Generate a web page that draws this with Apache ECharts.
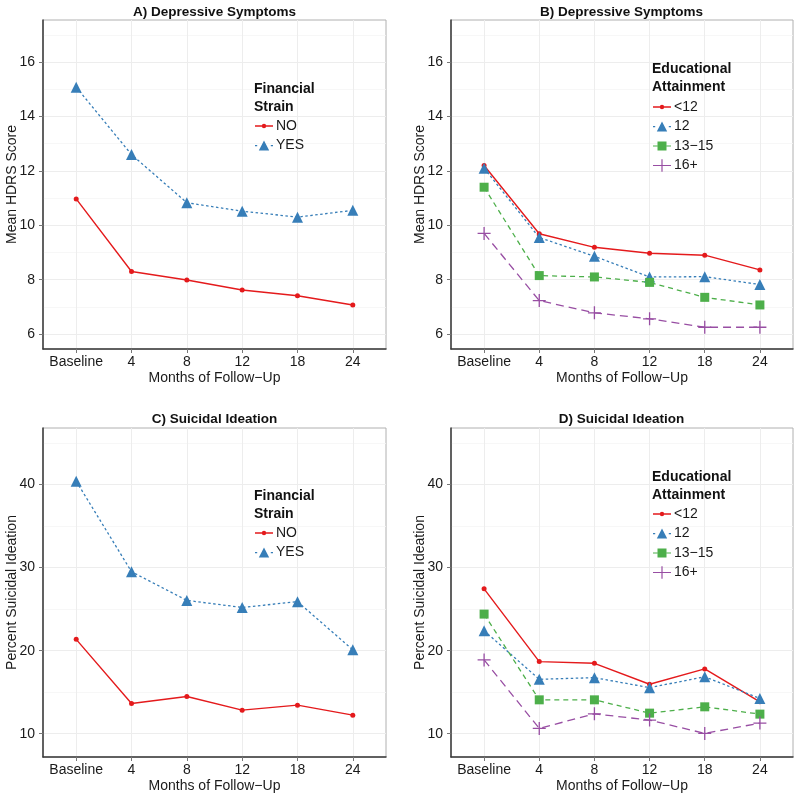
<!DOCTYPE html>
<html>
<head>
<meta charset="utf-8">
<script src="https://cdn.jsdelivr.net/npm/echarts@6/dist/echarts.min.js"></script>
<style>html,body{margin:0;padding:0;background:#fff}#c{width:800px;height:800px}</style>
</head>
<body>
<div id="c"></div>
<script>
// ---------- data ----------
const months = ['Baseline', '4', '8', '12', '18', '24'];

const depFinNo  = [10.97, 8.30, 7.99, 7.62, 7.41, 7.07];
const depFinYes = [15.08, 12.60, 10.83, 10.52, 10.30, 10.55];

const depEduLt12 = [12.20, 9.69, 9.19, 8.97, 8.90, 8.36];
const depEdu12   = [12.10, 9.55, 8.86, 8.10, 8.11, 7.82];
const depEdu1315 = [11.40, 8.15, 8.10, 7.90, 7.35, 7.07];
const depEdu16p  = [9.70, 7.23, 6.78, 6.56, 6.25, 6.25];

const siFinNo  = [21.36, 13.64, 14.48, 12.84, 13.44, 12.24];
const siFinYes = [40.40, 29.50, 26.05, 25.20, 25.90, 20.10];

const siEduLt12 = [27.44, 18.68, 18.48, 15.96, 17.80, 13.84];
const siEdu12   = [22.40, 16.55, 16.75, 15.55, 16.85, 14.25];
const siEdu1315 = [24.40, 14.08, 14.08, 12.48, 13.24, 12.36];
const siEdu16p  = [18.88, 10.64, 12.40, 11.64, 10.04, 11.28];

const depTicks = [6, 8, 10, 12, 14, 16];
const depMinor = [7, 9, 11, 13, 15, 17];
const siTicks = [10, 20, 30, 40];
const siMinor = [15, 25, 35, 45];

const finNames = ['NO', 'YES'];
const eduNames = ['<12', '12', '13\u221215', '16+'];

// ---------- styling ----------
const FONT = 'Liberation Sans, Arial, Helvetica, sans-serif';
const RED = '#E41A1C', BLUE = '#377EB8', GREEN = '#4DAF4A', PURPLE = '#984EA3';
const PLUS = 'path://M9,0H11V9H20V11H11V20H9V11H0V9H9Z';

// legend glyphs (line + marker) drawn in a 180-unit-wide box, 10 units = 1px
function rect(x0, x1, h) { return 'M' + x0 + ',' + (-h) + 'H' + x1 + 'V' + h + 'H' + x0 + 'Z'; }
const ICON_RED = 'path://' + rect(0, 70, 6.5) + rect(110, 180, 6.5) +
  'M112,0A22,22 0 1,1 68,0A22,22 0 1,1 112,0Z';
const ICON_BLUE = 'path://' + rect(0, 22, 6) + rect(158, 180, 6) +
  'M90,-52L142,48H38Z';
const ICON_GREEN = 'path://' + rect(0, 44, 6) + rect(136, 180, 6) +
  'M45,-45H135V45H45Z';
const ICON_PURPLE = 'path://' + rect(0, 28, 6) + rect(152, 180, 6) +
  'M84,-62H96V-6H152V6H96V62H84V6H28V-6H84Z';

const grids = [
  {left: 43, top: 20, width: 343, height: 329},
  {left: 451, top: 20, width: 342, height: 329},
  {left: 43, top: 428, width: 343, height: 329},
  {left: 451, top: 428, width: 342, height: 329}
].map(g => Object.assign(g, {show: true, borderColor: '#B0B0B0', borderWidth: 1, backgroundColor: '#fff'}));

const idx = [0, 1, 2, 3, 4, 5];

function xAxisFor(gi) {
  return {
    type: 'value', gridIndex: gi, min: -0.6, max: 5.6,
    name: 'Months of Follow\u2212Up', nameLocation: 'middle', nameGap: 22,
    nameTextStyle: {fontFamily: FONT, fontSize: 14, color: '#1a1a1a'},
    axisLine: {show: true, onZero: false, lineStyle: {color: '#3a3a3a', width: 1.5}},
    axisTick: {show: true, length: 4, customValues: idx, lineStyle: {color: '#777'}},
    axisLabel: {customValues: idx, margin: 6, fontFamily: FONT, fontSize: 14, color: '#1a1a1a',
      formatter: v => months[Math.round(v)]},
    splitLine: {show: true, lineStyle: {color: '#EDEDED', width: 1}}
  };
}
function yAxisFor(gi, min, max, ticks, name) {
  return {
    type: 'value', gridIndex: gi, min: min, max: max,
    name: name, nameLocation: 'middle', nameGap: 24, nameMoveOverlap: false,
    nameTextStyle: {fontFamily: FONT, fontSize: 14, color: '#1a1a1a'},
    axisLine: {show: true, onZero: false, lineStyle: {color: '#3a3a3a', width: 1.5}},
    axisTick: {show: true, length: 4, customValues: ticks, lineStyle: {color: '#777'}},
    axisLabel: {customValues: ticks, margin: 8, fontFamily: FONT, fontSize: 14, color: '#1a1a1a'},
    splitLine: {show: true, lineStyle: {color: '#EDEDED', width: 1}}
  };
}
function yMinorFor(gi, min, max, ticks) {
  return {
    type: 'value', gridIndex: gi, min: min, max: max, position: 'left',
    axisLine: {show: false}, axisLabel: {show: false, customValues: ticks},
    axisTick: {show: false, customValues: ticks},
    splitLine: {show: true, lineStyle: {color: '#F5F5F5', width: 0.8}}
  };
}

const xAxes = [0, 1, 2, 3].map(xAxisFor);
const yAxes = [
  yAxisFor(0, 5.45, 17.55, depTicks, 'Mean HDRS Score'),
  yAxisFor(1, 5.45, 17.55, depTicks, 'Mean HDRS Score'),
  yAxisFor(2, 7.2, 46.8, siTicks, 'Percent Suicidal Ideation'),
  yAxisFor(3, 7.2, 46.8, siTicks, 'Percent Suicidal Ideation'),
  yMinorFor(0, 5.45, 17.55, depMinor),
  yMinorFor(1, 5.45, 17.55, depMinor),
  yMinorFor(2, 7.2, 46.8, siMinor),
  yMinorFor(3, 7.2, 46.8, siMinor)
];

const styles = {
  red:    {color: RED, symbol: 'circle', symbolSize: 5, lineType: 'solid', width: 1.4},
  blue:   {color: BLUE, symbol: 'triangle', symbolSize: 11, lineType: [2.5, 2.5], width: 1.3},
  green:  {color: GREEN, symbol: 'rect', symbolSize: 9, lineType: [5, 4], width: 1.3},
  purple: {color: PURPLE, symbol: PLUS, symbolSize: 13, lineType: [8, 5], width: 1.3}
};

function mkSeries(name, values, gi, st) {
  return {
    type: 'line', name: name, xAxisIndex: gi, yAxisIndex: gi,
    data: values.map((v, i) => [i, v]),
    symbol: st.symbol, symbolSize: st.symbolSize, showSymbol: true,
    itemStyle: {color: st.color},
    lineStyle: {color: st.color, type: st.lineType, width: st.width},
    emphasis: {disabled: true}, animation: false, z: 3
  };
}

const series = [
  mkSeries('NO', depFinNo, 0, styles.red),
  mkSeries('YES', depFinYes, 0, styles.blue),
  mkSeries('<12', depEduLt12, 1, styles.red),
  mkSeries('12', depEdu12, 1, styles.blue),
  mkSeries('13\u221215', depEdu1315, 1, styles.green),
  mkSeries('16+', depEdu16p, 1, styles.purple),
  mkSeries('NO', siFinNo, 2, styles.red),
  mkSeries('YES', siFinYes, 2, styles.blue),
  mkSeries('<12', siEduLt12, 3, styles.red),
  mkSeries('12', siEdu12, 3, styles.blue),
  mkSeries('13\u221215', siEdu1315, 3, styles.green),
  mkSeries('16+', siEdu16p, 3, styles.purple)
];

function panelTitle(text, cx, top) {
  return {text: text, left: cx, top: top, textAlign: 'center', padding: 0,
    textStyle: {fontFamily: FONT, fontSize: 13.5, fontWeight: 'bold', color: '#111'}};
}
function legendTitle(text, left, top) {
  return {text: text, left: left, top: top, padding: 0,
    textStyle: {fontFamily: FONT, fontSize: 14, fontWeight: 'bold', color: '#111', lineHeight: 18}};
}
const finIcons = [ICON_RED, ICON_BLUE];
const eduIcons = [ICON_RED, ICON_BLUE, ICON_GREEN, ICON_PURPLE];
function legendFor(names, icons, left, top) {
  return {
    data: names.map((n, i) => ({name: n, icon: icons[i]})),
    left: left, top: top, orient: 'vertical', padding: 0,
    itemWidth: 18, itemHeight: 14, itemGap: 5.5, selectedMode: false,
    symbolKeepAspect: true,
    textStyle: {fontFamily: FONT, fontSize: 14, color: '#1a1a1a', padding: [0, 0, 0, -2]}
  };
}

const option = {
  backgroundColor: '#fff',
  animation: false,
  grid: grids,
  xAxis: xAxes,
  yAxis: yAxes,
  title: [
    panelTitle('A) Depressive Symptoms', 214.5, 5),
    panelTitle('B) Depressive Symptoms', 621.5, 5),
    panelTitle('C) Suicidal Ideation', 214.5, 412),
    panelTitle('D) Suicidal Ideation', 621.5, 412),
    legendTitle('Financial\nStrain', 254, 80),
    legendTitle('Educational\nAttainment', 652, 60),
    legendTitle('Financial\nStrain', 254, 487),
    legendTitle('Educational\nAttainment', 652, 468)
  ],
  legend: [
    legendFor(finNames, finIcons, 255, 119),
    legendFor(eduNames, eduIcons, 653, 100),
    legendFor(finNames, finIcons, 255, 526),
    legendFor(eduNames, eduIcons, 653, 507)
  ],
  series: series
};

const chart = echarts.init(document.getElementById('c'), null, {renderer: 'canvas'});
chart.setOption(option);
</script>
</body>
</html>
